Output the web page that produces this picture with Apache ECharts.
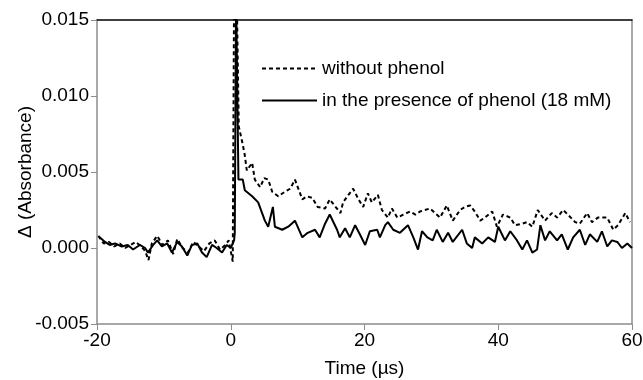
<!DOCTYPE html>
<html>
<head>
<meta charset="utf-8">
<script src="https://cdn.jsdelivr.net/npm/echarts@6/dist/echarts.min.js"></script>
<style>
html,body{margin:0;padding:0;background:#fff;}
#main{width:643px;height:380px;}
</style>
</head>
<body>
<div id="main"></div>
<script>
// time (µs) / delta absorbance
var tDashed = [-19.8,-19.0,-18.2,-17.4,-16.6,-15.8,-15.0,-14.2,-13.4,-12.8,-12.3,-11.8,-11.0,-10.2,-9.4,-8.6,-8.0,-7.2,-6.4,-5.6,-4.8,-4.0,-3.2,-2.4,-1.6,-0.8,-0.3,0.3,0.5,0.9,1.2,
  1.8,2.1,2.4,3.2,3.6,4.4,5.0,5.6,6.2,7.1,8.1,8.9,9.6,10.7,11.4,12.2,13.0,14.1,14.8,16.4,16.8,17.6,18.3,19.1,19.8,20.5,21.1,22.0,22.6,23.5,24.1,24.9,25.8,26.8,27.6,28.3,29.0,29.8,
  31.3,32.3,33.2,34.3,35.0,35.8,36.5,37.3,38.0,39.1,39.8,40.7,41.8,42.5,43.6,44.3,45.1,45.9,47.0,48.0,48.8,49.7,50.4,51.5,52.2,53.3,54.0,54.9,56.3,57.2,57.9,59.0,59.7];
var aDashed = [0.0008,0.0003,0.0004,0.0001,0.0003,0.0000,0.0002,0.0004,0.0001,-0.0002,-0.0008,0.0003,0.0008,0.0002,0.0005,-0.0004,0.0006,0.0000,-0.0003,0.0004,0.0001,-0.0002,0.0003,0.0005,-0.0001,0.0002,0.0005,-0.0009,0.0165,0.0165,0.0080,
  0.0068,0.0061,0.0051,0.0056,0.0045,0.0040,0.0046,0.0045,0.0037,0.0034,0.0037,0.0039,0.0045,0.0032,0.0034,0.0033,0.0027,0.0026,0.0032,0.0023,0.0030,0.0035,0.0039,0.0032,0.0027,0.0036,0.0030,0.0035,0.0025,0.0020,0.0026,0.0020,0.0022,0.0024,0.0022,0.0024,0.0025,0.0026,
  0.0020,0.0028,0.0018,0.0025,0.0027,0.0028,0.0024,0.0018,0.0020,0.0024,0.0014,0.0022,0.0020,0.0015,0.0016,0.0017,0.0014,0.0025,0.0018,0.0023,0.0020,0.0025,0.0022,0.0017,0.0016,0.0023,0.0017,0.0020,0.0020,0.0012,0.0015,0.0023,0.0017];

var tSolid = [-19.6,-18.8,-18.1,-17.3,-16.3,-15.4,-14.6,-13.6,-12.8,-12.4,-11.6,-11.0,-10.3,-9.5,-8.8,-8.0,-7.3,-6.5,-5.8,-5.0,-4.3,-3.6,-2.8,-2.1,-1.3,-0.6,0.0,0.5,0.6,0.8,1.15,
  1.8,2.1,3.2,4.1,5.1,5.6,6.3,6.6,7.7,8.6,9.6,10.7,11.5,12.6,13.3,14.1,14.8,15.9,16.3,17.1,17.8,18.6,19.3,20.1,20.8,21.9,22.3,23.1,23.5,24.3,25.3,26.5,27.3,28.0,28.6,29.4,30.2,
  30.8,31.7,32.5,33.2,34.6,35.3,36.1,36.5,37.6,38.5,39.5,40.0,41.0,41.8,42.8,43.6,44.3,45.1,45.8,46.3,47.0,47.7,48.8,49.5,50.4,51.2,52.2,53.0,53.7,54.8,55.5,56.3,57.0,57.8,58.5,59.3,60.0];
var aSolid = [0.0007,0.0004,0.0002,0.0003,0.0001,0.0002,-0.0001,0.0002,0.0000,-0.0003,0.0002,0.0005,0.0001,0.0003,-0.0003,0.0004,0.0001,-0.0005,0.0002,0.0003,-0.0003,-0.0006,0.0002,0.0000,-0.0003,0.0002,0.0000,0.0005,0.0010,0.0165,0.0045,
  0.0045,0.0038,0.0034,0.0030,0.0018,0.0014,0.0027,0.0014,0.0012,0.0014,0.0018,0.0007,0.0010,0.0012,0.0007,0.0016,0.0022,0.0012,0.0007,0.0013,0.0007,0.0015,0.0009,0.0002,0.0011,0.0012,0.0007,0.0015,0.0017,0.0012,0.0010,0.0015,0.0007,-0.0001,0.0011,0.0007,0.0005,
  0.0012,0.0004,0.0010,0.0004,0.0012,0.0003,0.0000,0.0007,0.0003,0.0007,0.0004,0.0014,0.0005,0.0011,0.0005,-0.0001,0.0005,-0.0003,-0.0001,0.0015,0.0005,0.0011,0.0005,0.0009,-0.0001,0.0007,0.0012,0.0002,0.0009,0.0004,0.0011,0.0001,0.0005,0.0004,0.0000,0.0003,0.0000];

var seriesNames = ['without phenol', 'in the presence of phenol (18 mM)'];

function pairs(xs, ys){
	var out = [];
	for (var i = 0; i < xs.length; i++) out.push([xs[i], ys[i]]);
	return out;
}

var font = 'Liberation Sans, Arial, sans-serif';
var myChart = echarts.init(document.getElementById('main'));
var option = {
	animation: false,
	grid: {left: 97, right: 11, top: 20, bottom: 56, outerBoundsMode: 'none'},
	legend: {
		orient: 'vertical',
		left: 256, top: 54,
		itemWidth: 55, itemHeight: 10, itemGap: 13,
		itemStyle: {opacity: 0},
		textStyle: {fontFamily: font, fontSize: 19, color: '#000'},
		data: seriesNames
	},
	xAxis: [{
		type: 'value', min: -20, max: 60, interval: 20,
		name: 'Time (µs)', nameLocation: 'middle', nameGap: 35,
		nameTextStyle: {fontFamily: font, fontSize: 19, color: '#000'},
		axisLine: {onZero: false, lineStyle: {color: '#8c8c8c', width: 1.5}},
		axisTick: {inside: false, length: 6, lineStyle: {color: '#8c8c8c'}},
		axisLabel: {fontFamily: font, fontSize: 19, color: '#000', margin: 7},
		splitLine: {show: false}
	}, {
		type: 'value', min: -20, max: 60, position: 'top',
		axisLine: {onZero: false, lineStyle: {color: '#000', width: 1.5}},
		axisTick: {show: false}, axisLabel: {show: false}, splitLine: {show: false}
	}],
	yAxis: [{
		type: 'value', min: -0.005, max: 0.015, interval: 0.005,
		name: 'Δ (Absorbance)', nameLocation: 'middle', nameGap: 62, nameMoveOverlap: false,
		nameTextStyle: {fontFamily: font, fontSize: 19, color: '#000'},
		axisLine: {show: true, onZero: false, lineStyle: {color: '#8c8c8c', width: 1.5}},
		axisTick: {show: true, length: 6, lineStyle: {color: '#8c8c8c'}},
		axisLabel: {fontFamily: font, fontSize: 19, color: '#000', margin: 8,
			formatter: function(v){ return v.toFixed(3); }},
		splitLine: {show: false}
	}, {
		type: 'value', min: -0.005, max: 0.015, position: 'right',
		axisLine: {show: true, onZero: false, lineStyle: {color: '#8c8c8c', width: 1.5}},
		axisTick: {show: false}, axisLabel: {show: false}, splitLine: {show: false}
	}],
	series: [{
		name: seriesNames[0], type: 'line', symbol: 'none',
		lineStyle: {color: '#000', width: 2, type: [4, 3]},
		itemStyle: {color: '#000'},
		data: pairs(tDashed, aDashed)
	}, {
		name: seriesNames[1], type: 'line', symbol: 'none',
		lineStyle: {color: '#000', width: 2},
		itemStyle: {color: '#000'},
		data: pairs(tSolid, aSolid)
	}]
};
myChart.setOption(option);
</script>
</body>
</html>
